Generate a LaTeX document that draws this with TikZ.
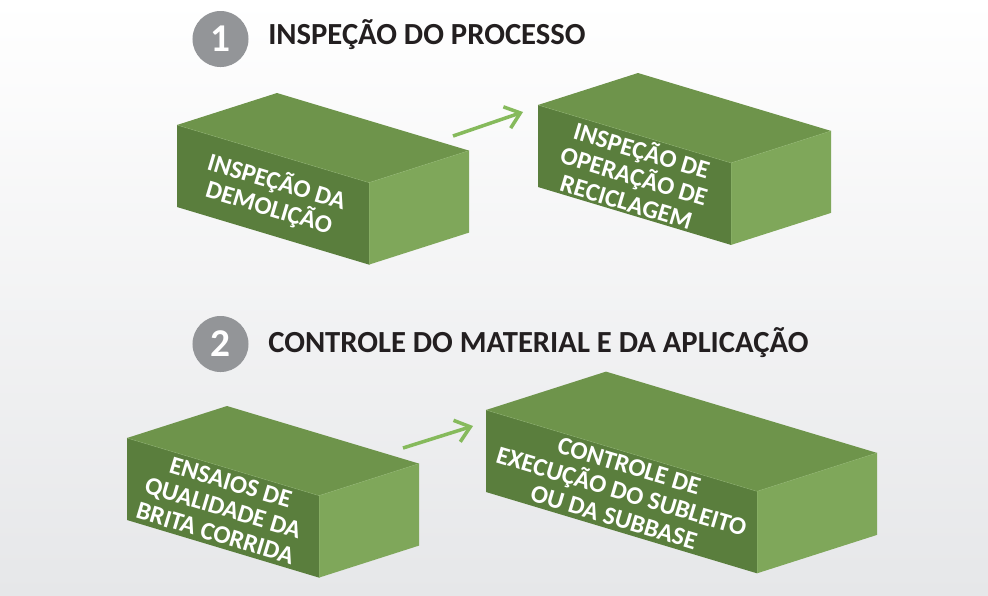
\documentclass[tikz,border=0pt]{standalone}
\usepackage{fontspec}
\setmainfont{Carlito}
\usetikzlibrary{arrows.meta}
\definecolor{brickfront}{HTML}{5A7E3D}
\definecolor{bricktop}{HTML}{6E944B}
\definecolor{brickside}{HTML}{7FA75A}
\definecolor{brickedge}{HTML}{8DB36C}
\definecolor{arrowgreen}{HTML}{86BA5C}
\definecolor{numgray}{HTML}{939598}
\definecolor{titleink}{HTML}{231F20}
\definecolor{bgbottom}{HTML}{E6E7E9}
\newcommand{\greenbrick}[6]{%
  \fill[bricktop] (#2,#3) -- ++(#5,-0.32*#5) -- ++(#4,0.3*#4) -- ++(-#5,0.32*#5) -- cycle;
  \fill[brickfront] (#2,#3) -- ++(#4,0.3*#4) -- ++(0,82) -- ++(-#4,-0.3*#4) -- cycle;
  \fill[brickside] (#2+#4,#3+0.3*#4) -- ++(#5,-0.32*#5) -- ++(0,82) -- ++(-#5,0.32*#5) -- cycle;
  \draw[brickline] (#2,#3) -- ++(#4,0.3*#4) -- ++(#5,-0.32*#5);
  \draw[brickline] (#2+#4,#3+0.3*#4) -- ++(0,82);
  \node[facetext] (#1) at (#2+0.5*#4,#3+0.15*#4+41) {#6};}

\begin{document}
\begin{tikzpicture}[
  x=0.025cm,y=-0.025cm,
  brickline/.style={brickedge,line width=0.4pt,opacity=0.6},
  facetext/.style={text=white,font=\bfseries\fontsize{18}{19}\selectfont,
    align=center,rotate=-16.7,inner sep=0pt},
  numdisc/.style={circle,fill=numgray,minimum size=1.4cm,inner sep=0pt,
    text=white,font=\bfseries\fontsize{28}{30}\selectfont},
  heading/.style={anchor=base west,inner sep=0pt,text=titleink,
    font=\bfseries\fontsize{21.8}{24}\selectfont},
  arr/.style={-{Straight Barb[length=10pt,width=16pt]},arrowgreen,line width=2.5pt}]
\useasboundingbox (0,0) rectangle (988,595);
\shade[top color=white,bottom color=bgbottom] (0,0) rectangle (988,595);
\node[numdisc] (d1) at (220.5,39) {1};
\node[heading] (h1) at (268,44) {INSPEÇÃO DO PROCESSO};
\node[numdisc] (d2) at (220.5,344) {2};
\node[heading] (h2) at (268,352) {CONTROLE DO MATERIAL E DA APLICAÇÃO};
\greenbrick{demol}{177}{125}{192}{100}{INSPEÇÃO DA\\DEMOLIÇÃO}
\greenbrick{recic}{538}{105}{193}{100}{INSPEÇÃO DE\\OPERAÇÃO DE\\RECICLAGEM}
\greenbrick{brita}{127}{438}{192}{100}{ENSAIOS DE\\QUALIDADE DA\\BRITA CORRIDA}
\greenbrick{subl}{486}{410}{271}{120}{CONTROLE DE\\EXECUÇÃO DO SUBLEITO\\OU DA SUBBASE}
\coordinate (demol-out) at (453,136);
\coordinate (recic-in) at (523,112);
\coordinate (brita-out) at (403,448);
\coordinate (subl-in) at (473,426);
\draw[arr] (demol-out)--(recic-in);
\draw[arr] (brita-out)--(subl-in);
\end{tikzpicture}
\end{document}
